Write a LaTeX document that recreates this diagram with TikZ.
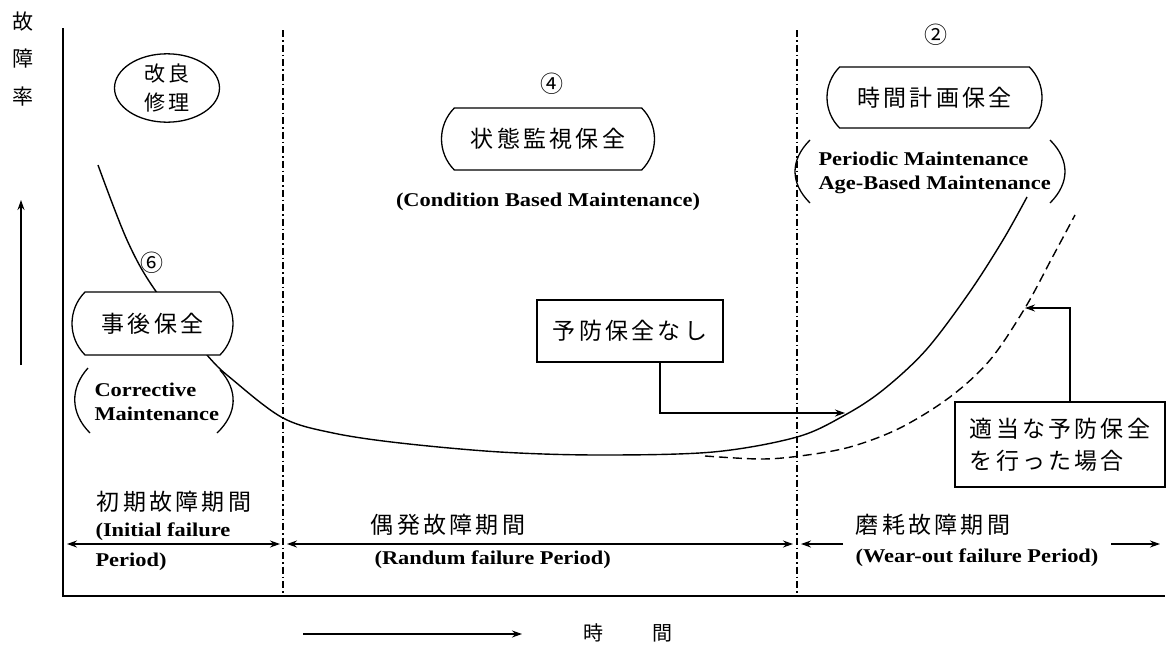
\documentclass[tikz,border=0pt]{standalone}
\usepackage{fontspec}
\setmainfont{Liberation Serif}
\newfontfamily\enw[FakeStretch=1.15]{Liberation Serif}
\newfontfamily\jp[LetterSpace=14]{Noto Sans CJK JP}
\newfontfamily\jpn{Noto Sans CJK JP}
\usetikzlibrary{shapes.misc,shapes.geometric,arrows.meta}
\begin{document}
\begin{tikzpicture}[x=1pt,y=-1pt,
  ax/.style={line width=1.5pt},
  dd/.style={line width=1.3pt, dash pattern=on 7pt off 3pt on 1.5pt off 3pt},
  curve/.style={line width=1.4pt},
  dcurve/.style={line width=1.4pt, dash pattern=on 9pt off 5pt},
  barrel/.style={draw, fill=white, line width=1.3pt, rounded rectangle, rounded rectangle arc length=90, inner sep=0pt},
  sq/.style={draw, fill=white, line width=1.3pt, inner sep=0pt},
  arr/.style={line width=1.2pt, -{Stealth[length=10pt,width=7pt]}},
  darr/.style={line width=1.2pt, {Stealth[length=10pt,width=7pt]}-{Stealth[length=10pt,width=7pt]}},
  jbox/.style={font=\jp\fontsize{23}{32}\selectfont},
  num/.style={font=\jpn\fontsize{23}{23}\selectfont},
  en/.style={font=\enw\bfseries\fontsize{19.5}{23.5}\selectfont},
  en2/.style={font=\enw\bfseries\fontsize{19.5}{22}\selectfont},
  paren/.style={line width=1.3pt}
]
\useasboundingbox (0,0) rectangle (1168,651);

% axes
\coordinate (ytop) at (63,28);
\coordinate (o) at (63,596);
\coordinate (xend) at (1165,596);
\draw[ax] (ytop) -- (o) -- (xend);

% period boundaries
\coordinate (d1t) at (283,30); \coordinate (d1b) at (283,596);
\coordinate (d2t) at (797,30); \coordinate (d2b) at (797,596);
\draw[dd] (d1t) -- (d1b);
\draw[dd] (d2t) -- (d2b);

% axis labels
\node[font=\jpn\fontsize{21}{37.5}\selectfont, align=center] (rate) at (23,59) {故\\障\\率};
\coordinate (upb) at (21,365); \coordinate (upt) at (21,200);
\draw[arr] (upb) -- (upt);
\coordinate (tb) at (303,634); \coordinate (te) at (522,634);
\draw[arr] (tb) -- (te);
\node[font=\jpn\fontsize{20}{20}\selectfont] (time) at (628,633) {時\hspace{49pt}間};

% failure rate curves
\draw[curve] plot[smooth, tension=0.55] coordinates {(98,165) (127,240) (155,290) (207,355) (233,380) (283,418) (333,433) (400,443) (500,452) (600,455) (713,452) (797,437) (845,415) (883,390) (926,350) (969,293) (1003,240) (1027,197)};
\draw[dcurve] plot[smooth, tension=0.55] coordinates {(705,456) (760,459) (800,456) (850,447) (900,428) (950,397) (990,360) (1025,308) (1052,258) (1075,215)};

% maintenance labels
\node[draw, ellipse, line width=1.3pt, minimum width=105, minimum height=60, inner sep=0pt, align=center, font=\jp\fontsize{21}{29}\selectfont] (kairyo) at (167,88) {改良\\修理};

\node[num] (n6) at (152,263) {⑥};
\node[barrel, minimum width=161, minimum height=63, jbox] (jigo) at (152.5,323.5) {事後保全};
\node[en, align=left, anchor=west] (cm) at (91,402) {Corrective\\Maintenance};
\draw[paren] (88,368) .. controls (70,388) and (70,413) .. (90,433);
\draw[paren] (220,370) .. controls (238,390) and (238,413) .. (217,433);

\node[num] (n4) at (552,84) {④};
\node[barrel, minimum width=213, minimum height=62, jbox] (jotai) at (548,139) {状態監視保全};
\node[en] (cbm) at (548,202) {(Condition Based Maintenance)};

\node[num] (n2) at (936,35) {②};
\node[barrel, minimum width=215, minimum height=61, jbox] (jikan) at (934.5,97.5) {時間計画保全};
\node[en, align=left, anchor=west] (pm) at (815,173) {Periodic Maintenance\\Age-Based Maintenance};
\draw[paren] (810,140) .. controls (790,160) and (790,183) .. (810,203);
\draw[paren] (1050,140) .. controls (1070,160) and (1070,183) .. (1050,203);

% callouts
\node[sq, minimum width=186, minimum height=62, jbox] (yobo) at (630,331) {予防保全なし};
\coordinate (tipA) at (845,413);
\draw[arr] ([xshift=30pt]yobo.south) |- (tipA);

\node[sq, minimum width=210, minimum height=85, jbox, align=left] (tekito) at (1060,444.5) {適当な予防保全\\を行った場合};
\coordinate (tipB) at (1025,308);
\draw[arr] ([xshift=10pt]tekito.north) |- (tipB);

% periods
\node[jbox] (p1) at (174,502) {初期故障期間};
\node[en2, anchor=west] (p1e) at (92,532) {(Initial failure};
\node[en2, anchor=west] (p1f) at (92,562) {Period)};
\node[jbox] (p2) at (448,525) {偶発故障期間};
\node[en2, anchor=west] (p2e) at (371,560) {(Randum failure Period)};
\node[jbox] (p3) at (933,525) {磨耗故障期間};
\node[en2, anchor=west] (p3e) at (852,558) {(Wear-out failure Period)};

\coordinate (a1l) at (67,544); \coordinate (a1r) at (280,544);
\coordinate (a2l) at (287,544); \coordinate (a2r) at (793,544);
\coordinate (a3l) at (801,544); \coordinate (a3m) at (843,544);
\coordinate (a4l) at (1111,544); \coordinate (a4r) at (1160,544);
\draw[darr] (a1l) -- (a1r);
\draw[darr] (a2l) -- (a2r);
\draw[arr] (a3m) -- (a3l);
\draw[arr] (a4l) -- (a4r);
\end{tikzpicture}
\end{document}
